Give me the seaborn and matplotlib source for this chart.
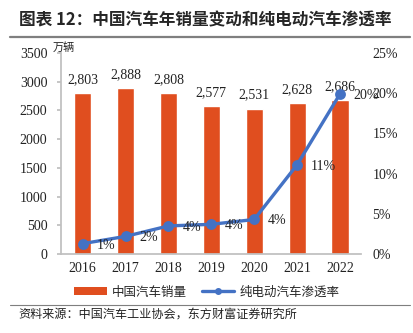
import matplotlib
matplotlib.use("Agg")
import matplotlib.pyplot as plt
import seaborn as sns
import pandas as pd
from matplotlib.lines import Line2D
from matplotlib.patches import Patch
from matplotlib.ticker import FuncFormatter, MultipleLocator

years = ["2016", "2017", "2018", "2019", "2020", "2021", "2022"]
sales = [2803, 2888, 2808, 2577, 2531, 2628, 2686]
rates = [1.3, 2.2, 3.5, 3.7, 4.3, 11.1, 19.9]
rate_labels = ["1%", "2%", "4%", "4%", "4%", "11%", "20%"]
sales_labels = ["2,803", "2,888", "2,808", "2,577", "2,531", "2,628", "2,686"]

title = "图表 12：中国汽车年销量变动和纯电动汽车渗透率"
unit = "万辆"
legend_bar = "中国汽车销量"
legend_line = "纯电动汽车渗透率"
source = "资料来源：中国汽车工业协会，东方财富证券研究所"

sns.set_theme(style="white")
CJK = ["Noto Sans CJK SC", "DejaVu Sans"]
SERIF = ["Liberation Serif", "DejaVu Serif"]
plt.rcParams["font.family"] = CJK

bar_color = "#E04E1F"
line_color = "#4472C4"
axis_gray = "#BFBFBF"

df = pd.DataFrame({"year": years, "sales": sales, "rate": rates})

fig = plt.figure(figsize=(4.14, 3.33), dpi=100)
ax = fig.add_axes([0.148, 0.237, 0.725, 0.604])

sns.barplot(data=df, x="year", y="sales", color=bar_color, width=0.4,
            saturation=1, ax=ax)
ax.set_ylim(0, 3500)
ax.yaxis.set_major_locator(MultipleLocator(500))
ax.set_xlabel("")
ax.set_ylabel("")
for i, (v, lab) in enumerate(zip(sales, sales_labels)):
    ax.annotate(lab, (i, v), xytext=(0, 5), textcoords="offset points",
                ha="center", va="bottom", fontsize=10, family=SERIF,
                color="#222222")

ax2 = ax.twinx()
sns.pointplot(data=df, x="year", y="rate", color=line_color, ax=ax2,
              markers="o", markersize=6, linewidth=2.4)
ax2.set_ylim(0, 25)
ax2.yaxis.set_major_locator(MultipleLocator(5))
ax2.yaxis.set_major_formatter(FuncFormatter(lambda v, p: f"{v:.0f}%"))
ax2.set_ylabel("")
ax2.set_xlabel("")
ax2.set_xlim(-0.5, 6.5)
ax.set_xlim(-0.5, 6.5)
for i, (v, lab) in enumerate(zip(rates, rate_labels)):
    ax2.annotate(lab, (i, v), xytext=(10, -1), textcoords="offset points",
                 ha="left", va="center", fontsize=10, family=SERIF,
                 color="#222222")

for a in (ax, ax2):
    for s in a.spines.values():
        s.set_visible(False)
    a.tick_params(labelsize=10, colors="#222222", length=0)
    for t in a.get_xticklabels() + a.get_yticklabels():
        t.set_fontfamily(SERIF)
ax.spines["left"].set_visible(True)
ax.spines["left"].set_color(axis_gray)
ax.spines["bottom"].set_visible(True)
ax.spines["bottom"].set_color(axis_gray)
ax.tick_params(axis="y", length=3, color=axis_gray, direction="out", pad=7)
ax.set_xticks([i + 0.5 for i in range(-1, 7)], minor=True)
ax.tick_params(axis="x", which="minor", length=3, color=axis_gray,
               direction="in")
ax.tick_params(axis="x", pad=6)
ax2.tick_params(axis="y", pad=8)

fig.text(0.045, 0.94, title, fontsize=12, fontweight="bold", ha="left",
         va="center", family=CJK)
fig.add_artist(Line2D([0.025, 0.99], [0.889, 0.889], color="#7F7F7F",
                      linewidth=1.6, transform=fig.transFigure))
fig.text(0.128, 0.856, unit, fontsize=8, ha="left", va="center", family=CJK,
         color="#222222")

handles = [Patch(facecolor=bar_color, edgecolor="none"),
           Line2D([0], [0], color=line_color, marker="o", markersize=4,
                  linewidth=2.4)]
fig.legend(handles, [legend_bar, legend_line], loc="center",
           bbox_to_anchor=(0.5, 0.123), ncol=2, frameon=False, fontsize=9,
           handlelength=2.6, handleheight=0.6, columnspacing=1.2,
           handletextpad=0.4)

fig.add_artist(Line2D([0.025, 0.99], [0.083, 0.083], color="#7F7F7F",
                      linewidth=0.8, transform=fig.transFigure))
fig.text(0.045, 0.057, source, fontsize=8.7, ha="left", va="center",
         family=CJK, color="#222222")

fig.savefig("out.png", dpi=100)
